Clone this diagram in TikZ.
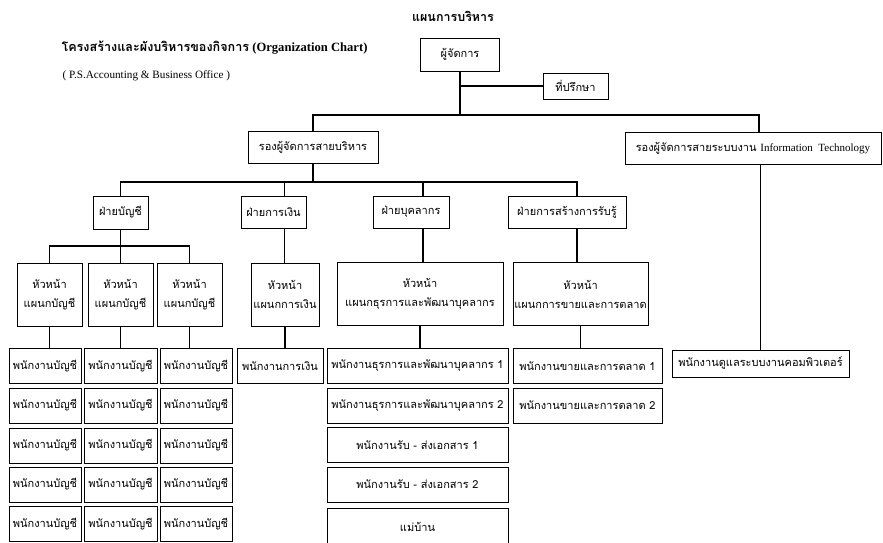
\documentclass[tikz,border=0pt]{standalone}
\usepackage{fontspec}
\setmainfont{Liberation Serif}
\newfontfamily\thai[Script=Thai]{Loma}

\tikzset{
  box/.style={draw, line width=0.9pt, inner sep=1pt, align=center,
    font=\thai\fontsize{11}{19}\selectfont},
  staff/.style={box, minimum width=72pt, minimum height=35pt},
  head/.style={box, minimum height=63pt},
  link/.style={line width=1.2pt},
}

\begin{document}
\begin{tikzpicture}[x=1pt,y=-1pt]
  \useasboundingbox (0,0) rectangle (883,542);
  % titles
  \node[font=\thai\bfseries\fontsize{12.5}{14}\selectfont] (plan) at (453,16) {แผนการบริหาร};
  \node[anchor=west, font=\bfseries\fontsize{12.6}{15}\selectfont] (title) at (58,48)
    {{\thai โครงสร้างและผังบริหารของกิจการ} (Organization Chart)};
  \node[anchor=west, font=\fontsize{11.2}{13}\selectfont] (firm) at (59,76)
    {( P.S.Accounting \& Business Office )};

  % top level
  \node[box, minimum width=79pt, minimum height=33pt] (mgr) at (460,54.5) {ผู้จัดการ};
  \node[box, minimum width=65pt, minimum height=26pt] (adv) at (575.5,86) {ที่ปรึกษา};
  \node[box, minimum width=130pt, minimum height=32pt] (dadm) at (313,147) {รองผู้จัดการสายบริหาร};
  \node[box, minimum width=256pt, minimum height=32pt] (dit) at (753,148)
    {รองผู้จัดการสายระบบงาน {\rmfamily Information\ \ Technology}};
  \coordinate (b1) at (460,115);
  \draw[link] (mgr) -- (b1);
  \draw[link] (adv.west) -- (adv.west -| mgr.south);
  \draw[link] (dadm) |- (b1);
  \draw[link] (b1) -| ([xshift=6pt]dit.north);

  % departments
  \node[box, minimum width=55pt, minimum height=33pt] (acc) at (120.5,212.5) {ฝ่ายบัญชี};
  \node[box, minimum width=65pt, minimum height=32pt] (fin) at (273.5,212) {ฝ่ายการเงิน};
  \node[box, minimum width=76pt, minimum height=32pt] (per) at (411,212) {ฝ่ายบุคลากร};
  \node[box, minimum width=118pt, minimum height=32pt] (aware) at (567,212) {ฝ่ายการสร้างการรับรู้};
  \coordinate (b2) at (313,182);
  \draw[link] (dadm) -- (b2);
  \draw[link] (acc) |- (b2) -| ([xshift=10pt]aware.north);
  \draw[link] (b2) -| ([xshift=11pt]fin.north);
  \draw[link] (b2) -| ([xshift=12pt]per.north);

  % section heads
  \node[head, minimum width=65pt] (hacc1) at (49.5,294.5) {หัวหน้า\\แผนกบัญชี};
  \node[head, minimum width=65pt] (hacc2) at (120.5,294.5) {หัวหน้า\\แผนกบัญชี};
  \node[head, minimum width=65pt] (hacc3) at (189.5,294.5) {หัวหน้า\\แผนกบัญชี};
  \node[head, minimum width=68pt] (hfin) at (285,294.5) {หัวหน้า\\แผนกการเงิน};
  \node[head, minimum width=166pt] (hper) at (420,294) {หัวหน้า\\แผนกธุรการและพัฒนาบุคลากร};
  \node[head, minimum width=135pt] (hmkt) at (580.5,294) {หัวหน้า\\แผนกการขายและการตลาด};
  \coordinate (b3) at (120.5,246);
  \draw[link] (acc) -- (hacc2);
  \draw[link] (hacc1) |- (b3) -| (hacc3);
  \draw[link] ([xshift=11pt]fin.south) -- ([xshift=11pt]fin.south |- hfin.north);
  \draw[link] ([xshift=12pt]per.south) -- ([xshift=12pt]per.south |- hper.north);
  \draw[link] ([xshift=10pt]aware.south) -- ([xshift=10pt]aware.south |- hmkt.north);

  % staff
  \foreach \r/\y in {1/366,2/405.5,3/445.5,4/484.5,5/524}{
    \node[staff] (sa\r) at (45,\y) {พนักงานบัญชี};
    \node[staff, minimum width=73pt] (sb\r) at (120.5,\y) {พนักงานบัญชี};
    \node[staff] (sc\r) at (196,\y) {พนักงานบัญชี};
  }
  \node[staff, minimum width=86pt] (sfin) at (280,366) {พนักงานการเงิน};
  \node[staff, minimum width=181pt] (sper1) at (417.5,366) {พนักงานธุรการและพัฒนาบุคลากร 1};
  \node[staff, minimum width=181pt] (sper2) at (417.5,405.5) {พนักงานธุรการและพัฒนาบุคลากร 2};
  \node[staff, minimum width=181pt] (sper3) at (417.5,445) {พนักงานรับ - ส่งเอกสาร 1};
  \node[staff, minimum width=181pt] (sper4) at (417.5,484.5) {พนักงานรับ - ส่งเอกสาร 2};
  \node[staff, minimum width=181pt, minimum height=37pt] (sper5) at (417.5,526.5) {แม่บ้าน};
  \node[staff, minimum width=149pt] (smkt1) at (587.5,366) {พนักงานขายและการตลาด 1};
  \node[staff, minimum width=149pt] (smkt2) at (587.5,405.5) {พนักงานขายและการตลาด 2};
  \node[staff, minimum width=177pt, minimum height=27pt] (sit) at (760.5,363.5) {พนักงานดูแลระบบงานคอมพิวเตอร์};

  \draw[link] (hacc1) -- (hacc1 |- sa1.north);
  \draw[link] (hacc2) -- (hacc2 |- sb1.north);
  \draw[link] (hacc3) -- (hacc3 |- sc1.north);
  \draw[link] (hfin) -- (hfin |- sfin.north);
  \draw[link] (hper) -- (hper |- sper1.north);
  \draw[link] (smkt1.north -| hmkt) -- (hmkt);
  \draw[link] (sit.north) -- (sit.north |- dit.south);
\end{tikzpicture}
\end{document}
